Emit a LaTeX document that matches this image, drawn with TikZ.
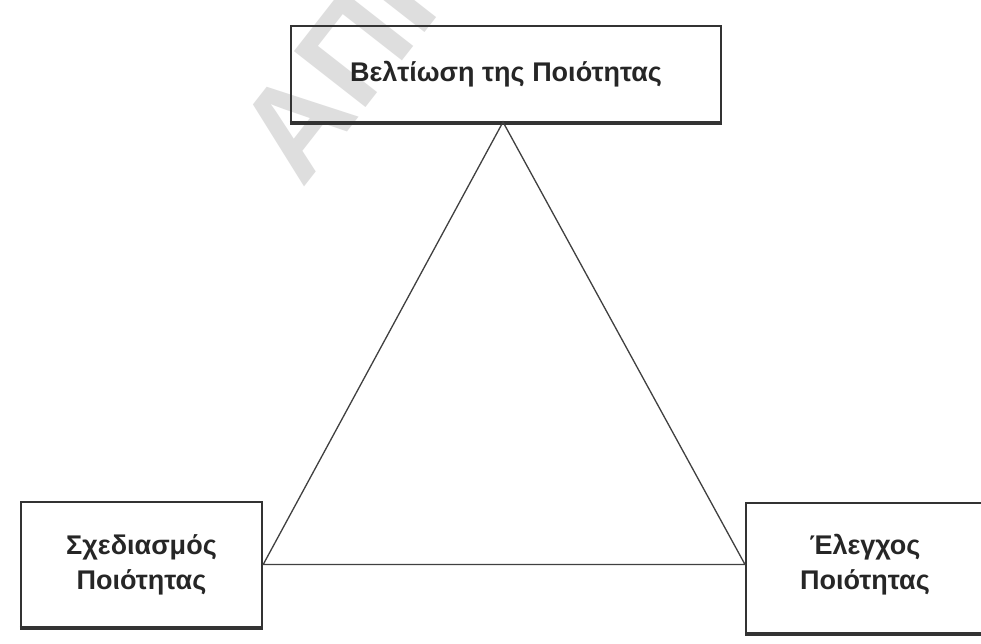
\documentclass[tikz,border=0pt]{standalone}
\usepackage{fontspec}
\setmainfont{Liberation Sans}
\begin{document}
\begin{tikzpicture}[x=1pt,y=1pt,
  boxline/.style={draw=black!80, line width=2.4pt},
  label/.style={font=\bfseries\fontsize{27}{35}\selectfont, text=black!85, align=center},
  side/.style={draw=black!75, line width=1.3pt}]
\useasboundingbox (0,0) rectangle (981,644);
\fill[white] (0,0) rectangle (981,644);
% faint diagonal watermark
\node[font=\bfseries\fontsize{132}{132}\selectfont, text=black!13, rotate=52, anchor=base west]
  (wm) at (300,452) {ΑΠΚ};
% boxes
\node[boxline, minimum width=430pt, minimum height=96pt] (top) at (506,570) {};
\node[boxline, minimum width=241pt, minimum height=125pt] (left) at (141.5,79.5) {};
\node[boxline, minimum width=245pt, minimum height=130pt, anchor=west] (right) at (745,76) {};
% heavier lower rules
\draw[black!80, line width=3.5pt] (top.south west) -- (top.south east);
\draw[black!80, line width=3.5pt] (left.south west) -- (left.south east);
\draw[black!80, line width=3.5pt] (right.south west) -- (right.south east);
% labels
\node[label] (ttop) at (top.center) {Βελτίωση της Ποιότητας};
\node[label] (tleft) at (left.center) {Σχεδιασμός\\Ποιότητας};
\node[label] (tright) at (865,79) {Έλεγχος\\Ποιότητας};
% triangle
\coordinate (apex) at (503,522);
\coordinate (bl) at (left.east);
\coordinate (br) at (right.west |- bl);
\draw[side] (apex) -- (bl) -- (br) -- cycle;
\end{tikzpicture}
\end{document}
